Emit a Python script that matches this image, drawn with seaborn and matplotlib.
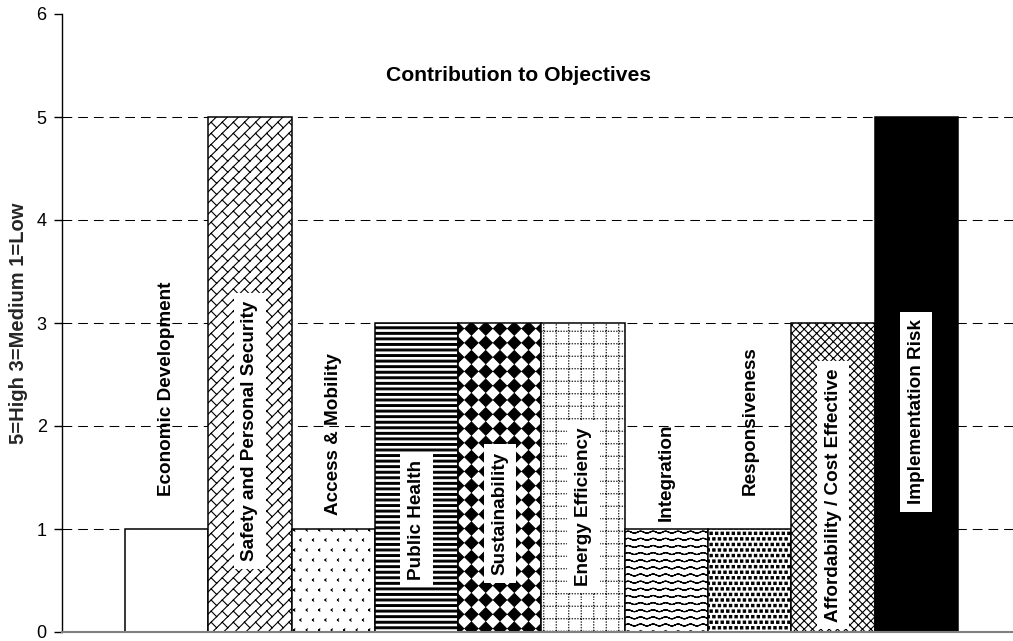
import warnings
import numpy as np
import matplotlib
matplotlib.use("Agg")
import matplotlib.pyplot as plt
import matplotlib.hatch as mhatch
from matplotlib.path import Path
import seaborn as sns

# ---------------------------------------------------------------- data
categories = [
    "Economic Development",
    "Safety and Personal Security",
    "Access & Mobility",
    "Public Health",
    "Sustainability",
    "Energy Efficiency",
    "Integration",
    "Responsiveness",
    "Affordability / Cost Effective",
    "Implementation Risk",
]
scores = [1, 5, 1, 3, 3, 3, 1, 1, 3, 5]
yticks = [0, 1, 2, 3, 4, 5, 6]
title = "Contribution to Objectives"
ylabel = "5=High 3=Medium 1=Low"

# label placement (vertical centre of each rotated label) and whether it
# sits on a white box inside the bar
label_mid = [2.36, 1.95, 1.92, 1.09, 1.15, 1.22, 1.55, 2.05, 1.33, 2.14]
label_boxed = [False, True, False, True, True, True, False, False, True, True]

# fill pattern per bar (custom tile hatches registered below)
bar_hatch = [None, "b", "v", "h", "d", "g", "w", "r", "xxxx", None]
bar_face = ["white"] * 9 + ["black"]


# ---------------------------------------------------------------- hatches
def _seg(parts, a, b):
    parts.append((np.array([a, b], float), [Path.MOVETO, Path.LINETO]))


def _poly(parts, pts):
    pts = np.asarray(pts, float)
    v = np.vstack([pts, pts[:1]])
    c = [Path.MOVETO] + [Path.LINETO] * (len(pts) - 1) + [Path.CLOSEPOLY]
    parts.append((v, c))


class TileHatch(mhatch.HatchPatternBase):
    key = None

    def __init__(self, hatch, density):
        parts = self.build() if (hatch and self.key in hatch) else []
        if parts:
            self._v = np.concatenate([p[0] for p in parts])
            self._c = np.concatenate(
                [np.asarray(p[1], dtype=Path.code_type) for p in parts])
        else:
            self._v = np.empty((0, 2))
            self._c = np.empty(0, dtype=Path.code_type)
        self.num_vertices = len(self._v)

    def build(self):
        return []

    def set_vertices_and_codes(self, vertices, codes):
        vertices[:] = self._v
        codes[:] = self._c


class BrickHatch(TileHatch):
    """Diagonal brick: long '/' lines with short staggered cross joints."""
    key = "b"

    def build(self):
        n = 9
        parts = []
        for k in range(-n - 1, n + 2):
            c = k / n
            _seg(parts, (c - 0.1, -0.1), (c + 1.1, 1.1))
        for k in range(-n - 1, n + 1):
            for j in range(-2, 2 * n + 3):
                if (j - k) % 2:
                    continue
                v = j / n
                u0, u1 = k / n, (k + 1) / n
                _seg(parts, ((u0 + v) / 2, (v - u0) / 2),
                     ((u1 + v) / 2, (v - u1) / 2))
        return parts


class ChevronHatch(TileHatch):
    """Sparse small '<' marks on a staggered grid."""
    key = "v"

    def build(self):
        parts = []
        nc, nr, a = 8, 10, 0.011
        for r in range(nr + 1):
            y = r / nr
            shift = 0.5 / nc if r % 2 else 0.0
            for c in range(-1, nc + 1):
                x = c / nc + shift
                _seg(parts, (x + a, y + a), (x, y))
                _seg(parts, (x, y), (x + a, y - a))
        return parts


class StripeHatch(TileHatch):
    """Dense heavy horizontal stripes."""
    key = "h"

    def build(self):
        parts = []
        n, t = 18, 0.009
        for r in range(n + 1):
            y = r / n
            _poly(parts, [(-0.1, y - t), (1.1, y - t), (1.1, y + t), (-0.1, y + t)])
        return parts


class DiamondHatch(TileHatch):
    """Solid diamond checkerboard."""
    key = "d"

    def build(self):
        parts = []
        n = 7
        h = 0.5 / n - 0.006
        for i in range(n + 1):
            for j in range(n + 1):
                x, y = i / n, j / n
                _poly(parts, [(x - h, y), (x, y - h), (x + h, y), (x, y + h)])
        return parts


class DotGridHatch(TileHatch):
    """Dotted square grid."""
    key = "g"

    def build(self):
        parts = []
        n, m, d = 8, 36, 0.003
        for i in range(n):
            p = (i + 0.5) / n
            for k in range(m):
                q = k / m
                _seg(parts, (p, q), (p, q + d))
                _seg(parts, (q, p), (q + d, p))
        return parts


class WaveHatch(TileHatch):
    """Horizontal wavy lines."""
    key = "w"

    def build(self):
        parts = []
        rows, periods, amp, m = 14, 8, 0.009, 160
        xs = np.linspace(0, 1, m + 1)
        for r in range(rows):
            y0 = (r + 0.5) / rows
            ys = y0 + amp * np.sin(2 * np.pi * periods * xs)
            for k in range(m):
                _seg(parts, (xs[k], ys[k]), (xs[k + 1], ys[k + 1]))
        return parts


class DotHatch(TileHatch):
    """Dense staggered square dots."""
    key = "r"

    def build(self):
        parts = []
        n, s = 18, 0.0115
        for r in range(n + 1):
            y = r / n
            shift = 0.5 / n if r % 2 else 0.0
            for c in range(-1, n + 1):
                x = c / n + shift
                _poly(parts, [(x - s, y - s), (x + s, y - s),
                              (x + s, y + s), (x - s, y + s)])
        return parts


mhatch._hatch_types.extend([BrickHatch, ChevronHatch, StripeHatch, DiamondHatch,
                            DotGridHatch, WaveHatch, DotHatch])
warnings.filterwarnings("ignore", message=".*hatch must consist.*")

# ---------------------------------------------------------------- style
sns.set_theme(style="white")
plt.rcParams["font.family"] = ["Liberation Sans", "DejaVu Sans"]
plt.rcParams["hatch.linewidth"] = 0.8
plt.rcParams["lines.scale_dashes"] = False

fig = plt.figure(figsize=(10.13, 6.41), dpi=100)
ax = fig.add_axes([62 / 1013, 9 / 641, 951 / 1013, 618 / 641])

sns.barplot(x=categories, y=scores, order=categories, color="white",
            width=1.0, saturation=1, edgecolor="black", linewidth=1.1,
            ax=ax, zorder=2)

for patch, hatch, face in zip(ax.patches, bar_hatch, bar_face):
    patch.set_facecolor(face)
    patch.set_edgecolor("black")
    if hatch:
        patch.set_hatch(hatch)

# dashed reference lines at the inner score levels
for level in yticks[1:-1]:
    ax.axhline(level, color="black", linewidth=0.75,
               linestyle=(0, (7, 4.3)), zorder=0.5)

ax.set_xlim(-1.256, 10.16)
ax.set_ylim(yticks[0], yticks[-1])
ax.set_yticks(yticks)
ax.set_yticklabels([str(t) for t in yticks])
ax.set_xticks([])
ax.set_xlabel("")
ax.set_ylabel(ylabel, fontsize=14.5, fontweight="bold", labelpad=6)

ax.tick_params(axis="y", left=True, direction="out", length=6, width=1,
               color="black", labelsize=13, pad=5, labelcolor="black")

for side in ("top", "right"):
    ax.spines[side].set_visible(False)
ax.spines["left"].set_color("black")
ax.spines["left"].set_linewidth(1.0)
ax.spines["bottom"].set_color("#808080")
ax.spines["bottom"].set_linewidth(1.5)

# category names written vertically on / above the bars
for i, (name, ymid, boxed) in enumerate(zip(categories, label_mid, label_boxed)):
    kw = {}
    if boxed:
        kw["bbox"] = dict(boxstyle="square,pad=0.4", fc="white", ec="none")
    ax.text(i, ymid, name, rotation=90, ha="center", va="center",
            fontsize=13.6, fontweight="bold", color="black", zorder=5, **kw)

ax.text(0.4795, 0.901, title, transform=ax.transAxes, ha="center",
        va="center", fontsize=15.2, fontweight="bold", color="black")

fig.savefig("out.png", dpi=100)
